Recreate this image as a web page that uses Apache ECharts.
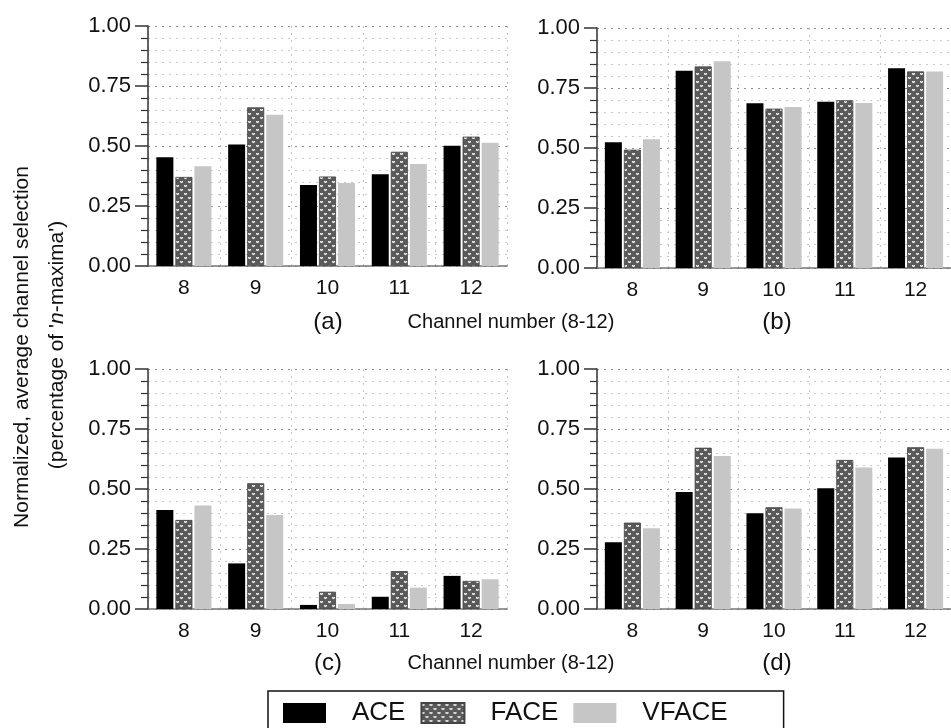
<!DOCTYPE html>
<html>
<head>
<meta charset="utf-8">
<script src="https://cdn.jsdelivr.net/npm/echarts@6/dist/echarts.min.js"></script>
<style>
  html, body { margin: 0; padding: 0; background: #fff; }
  #chart { width: 951px; height: 728px; }
</style>
</head>
<body>
<div id="chart"></div>
<script>
// channel numbers on the x axis
const channels = ["8", "9", "10", "11", "12"];
const yTicks = [0, 0.25, 0.5, 0.75, 1.0];
const methods = ["ACE", "FACE", "VFACE"];

// panel (a)
const aceA = [0.453, 0.506, 0.337, 0.382, 0.501];
const faceA = [0.371, 0.661, 0.373, 0.476, 0.539];
const vfaceA = [0.416, 0.630, 0.346, 0.425, 0.514];
// panel (b)
const aceB = [0.524, 0.822, 0.686, 0.693, 0.832];
const faceB = [0.493, 0.840, 0.664, 0.699, 0.819];
const vfaceB = [0.536, 0.861, 0.671, 0.688, 0.819];
// panel (c)
const aceC = [0.413, 0.190, 0.017, 0.051, 0.138];
const faceC = [0.371, 0.524, 0.072, 0.158, 0.117];
const vfaceC = [0.431, 0.392, 0.021, 0.089, 0.124];
// panel (d)
const aceD = [0.278, 0.488, 0.399, 0.503, 0.631];
const faceD = [0.360, 0.672, 0.424, 0.621, 0.674];
const vfaceD = [0.336, 0.638, 0.419, 0.590, 0.668];

const panels = [
  { tag: "(a)", ace: aceA, face: faceA, vface: vfaceA },
  { tag: "(b)", ace: aceB, face: faceB, vface: vfaceB },
  { tag: "(c)", ace: aceC, face: faceC, vface: vfaceC },
  { tag: "(d)", ace: aceD, face: faceD, vface: vfaceD },
];

// dark grey tile with small white "v" marks for the FACE bars
function makePattern() {
  const c = document.createElement("canvas");
  c.width = 8;
  c.height = 8;
  const ctx = c.getContext("2d");
  ctx.fillStyle = "#5a5a5a";
  ctx.fillRect(0, 0, 8, 8);
  ctx.fillStyle = "#f2f2f2";
  [[0, 1], [2, 1], [1, 2], [4, 5], [6, 5], [5, 6]].forEach(([x, y]) => ctx.fillRect(x, y, 1, 1));
  ctx.fillStyle = "#b8b8b8";
  [[1, 1], [0, 2], [2, 2], [5, 5], [4, 6], [6, 6]].forEach(([x, y]) => ctx.fillRect(x, y, 1, 1));
  return c;
}
const facePattern = { image: makePattern(), repeat: "repeat" };

const gridPos = [
  { left: 148, top: 26, width: 359, height: 240 },
  { left: 597, top: 28, width: 362, height: 240 },
  { left: 148, top: 369, width: 359, height: 240 },
  { left: 597, top: 369, width: 362, height: 240 },
];

const labelFont = { fontFamily: "Liberation Sans", fontSize: 21, color: "#111" };

const xAxes = gridPos.map((g, i) => ({
  type: "category",
  gridIndex: i,
  data: channels,
  axisLine: { lineStyle: { color: "#777", width: 1.5 } },
  axisTick: { show: false },
  axisLabel: { ...labelFont, margin: 12 },
  splitLine: { show: true, lineStyle: { color: "#c4c4c4", type: [2, 5] } },
}));

const yAxes = gridPos.map((g, i) => ({
  type: "value",
  gridIndex: i,
  min: 0,
  max: 1,
  interval: 0.25,
  axisLine: { show: true, lineStyle: { color: "#333", width: 1.5 } },
  axisTick: { show: true, length: 13, lineStyle: { color: "#333", width: 1.5 } },
  minorTick: { show: true, splitNumber: 5, length: 7, lineStyle: { color: "#333", width: 1.2 } },
  axisLabel: { ...labelFont, fontSize: 22, margin: 17, formatter: (v) => v.toFixed(2) },
  splitLine: { show: true, lineStyle: { color: "#8c8c8c", type: [2, 5], width: 1.2 } },
  minorSplitLine: { show: true, lineStyle: { color: "#c8c8c8", type: [2, 5] } },
}));

const series = [];
panels.forEach((p, i) => {
  const common = { type: "bar", xAxisIndex: i, yAxisIndex: i, barWidth: 17, barGap: "12%" };
  series.push({ ...common, name: "ACE", data: p.ace, itemStyle: { color: "#000" } });
  series.push({ ...common, name: "FACE", data: p.face, itemStyle: { color: facePattern, borderColor: "#444", borderWidth: 0.8 } });
  series.push({ ...common, name: "VFACE", data: p.vface, itemStyle: { color: "#c6c6c6" } });
});

const captionFont = { fontFamily: "Liberation Sans", fill: "#111" };

const graphics = [
  { type: "text", x: 328, y: 322, style: { ...captionFont, text: "(a)", fontSize: 24, align: "center", verticalAlign: "middle" } },
  { type: "text", x: 777, y: 322, style: { ...captionFont, text: "(b)", fontSize: 24, align: "center", verticalAlign: "middle" } },
  { type: "text", x: 328, y: 663, style: { ...captionFont, text: "(c)", fontSize: 24, align: "center", verticalAlign: "middle" } },
  { type: "text", x: 777, y: 663, style: { ...captionFont, text: "(d)", fontSize: 24, align: "center", verticalAlign: "middle" } },
  { type: "text", x: 511, y: 322, style: { ...captionFont, text: "Channel number (8-12)", fontSize: 20, align: "center", verticalAlign: "middle" } },
  { type: "text", x: 511, y: 663, style: { ...captionFont, text: "Channel number (8-12)", fontSize: 20, align: "center", verticalAlign: "middle" } },
  {
    type: "text", x: 22, y: 347, rotation: Math.PI / 2,
    style: { ...captionFont, text: "Normalized, average channel selection", fontSize: 21, align: "center", verticalAlign: "middle" },
  },
  {
    type: "text", x: 57, y: 345, rotation: Math.PI / 2,
    style: {
      ...captionFont,
      text: "(percentage of '{i|n}-maxima')",
      fontSize: 21, align: "center", verticalAlign: "middle",
      rich: { i: { fontStyle: "italic", fontSize: 21, fontFamily: "Liberation Sans", fill: "#111" } },
    },
  },
];

const chart = echarts.init(document.getElementById("chart"), null, { renderer: "canvas" });
chart.setOption({
  animation: false,
  backgroundColor: "#fff",
  grid: gridPos,
  xAxis: xAxes,
  yAxis: yAxes,
  legend: {
    data: methods,
    left: 268,
    top: 691,
    orient: "horizontal",
    icon: "rect",
    itemWidth: 43,
    itemHeight: 20,
    itemGap: 15,
    padding: [9, 56, 14, 15],
    borderColor: "#111",
    borderWidth: 1.5,
    textStyle: { fontFamily: "Liberation Sans", fontSize: 26, color: "#111", padding: [0, 0, 0, 21] },
  },
  series: series,
  graphic: graphics,
});
</script>
</body>
</html>
